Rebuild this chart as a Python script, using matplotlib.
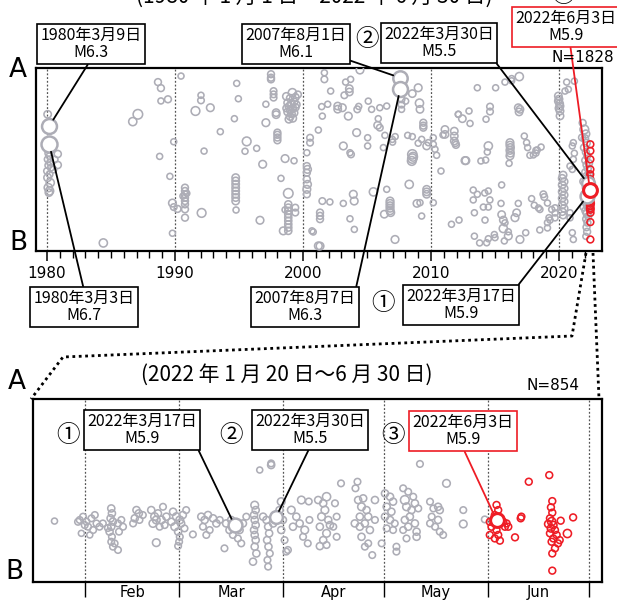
import matplotlib.pyplot as plt
from matplotlib.lines import Line2D

plt.rcParams['font.family'] = ['DejaVu Sans', 'Noto Sans CJK JP']

W, H = 617, 601
JP = ['Noto Sans CJK JP', 'DejaVu Sans']

# ---- upper panel: (year, position on A-B line [0=B .. 100=A], magnitude) ----
quakes_1980s = [
    (1980.05, 74.7, 3.5), (1980.10, 53.4, 3.2), (1980.20, 51.9, 3.2), (1980.05, 50.1, 3.2),
    (1980.25, 48.3, 3.2), (1980.10, 46.8, 3.2), (1980.30, 45.5, 3.2), (1980.00, 43.7, 3.2),
    (1980.20, 41.9, 3.2), (1980.05, 40.1, 3.6), (1980.25, 37.3, 3.8), (1980.10, 34.6, 3.8),
    (1980.20, 32.8, 3.8), (1980.15, 31.9, 3.5), (1980.84, 53.0, 3.4), (1980.84, 47.0, 3.4),
    (1980.60, 50.0, 3.2), (1980.50, 44.5, 3.2), (1980.40, 55.5, 3.2), (1980.00, 56.0, 3.2),
    (1984.40, 4.4, 3.8), (1986.70, 70.7, 3.8), (1987.10, 74.7, 4.3), (1988.67, 92.3, 3.3),
    (1988.90, 89.0, 3.3), (1989.45, 82.9, 3.3), (1988.90, 82.0, 3.0), (1989.90, 59.7, 3.0),
    (1988.80, 51.7, 3.0), (1989.60, 40.8, 3.0), (1989.80, 26.2, 3.6), (1989.90, 24.0, 3.2),
    (1990.20, 23.0, 3.3), (1989.80, 9.7, 3.0),
]

quakes_1990s = [
    (1990.47, 95.6, 3.0), (1990.78, 34.6, 3.3), (1990.78, 32.8, 3.3), (1990.78, 30.9, 3.3),
    (1990.78, 29.1, 3.3), (1990.78, 27.3, 3.3), (1990.78, 25.5, 3.3), (1990.78, 22.8, 3.3),
    (1990.78, 18.2, 3.3), (1990.62, 30.0, 3.0), (1990.92, 31.5, 3.0),
    (1991.60, 76.5, 4.0), (1992.03, 85.1, 3.0), (1992.03, 82.3, 3.2), (1992.08, 20.8, 4.0),
    (1992.27, 54.6, 3.0), (1992.76, 78.3, 3.6), (1993.54, 65.2, 3.0),
    (1994.64, 72.3, 3.0), (1994.82, 91.6, 3.0), (1994.95, 83.2, 3.0),
    (1994.74, 40.1, 3.5), (1994.74, 38.3, 3.5), (1994.74, 36.5, 3.5), (1994.74, 34.6, 3.5),
    (1994.74, 32.8, 3.5), (1994.74, 31.0, 3.5), (1994.74, 29.2, 3.5), (1994.74, 27.3, 3.5),
    (1994.77, 22.4, 3.0),
    (1995.47, 54.5, 3.0), (1995.60, 59.9, 4.0), (1996.38, 56.1, 3.0), (1996.64, 16.8, 3.6),
    (1996.85, 47.4, 3.6),
    (1997.10, 80.2, 3.0), (1997.10, 70.1, 3.6), (1997.50, 96.6, 3.3), (1997.50, 94.7, 3.3),
    (1997.50, 93.8, 3.3), (1997.70, 87.4, 3.2), (1997.70, 85.6, 3.2), (1997.70, 83.8, 3.2),
    (1997.90, 75.6, 3.5), (1997.90, 74.5, 3.5),
    (1998.00, 64.7, 3.3), (1998.00, 63.5, 3.3), (1998.00, 62.0, 3.3), (1998.00, 60.5, 3.3),
    (1998.28, 39.7, 3.0), (1998.60, 50.5, 3.6), (1999.30, 49.3, 3.0),
    (1999.17, 86.5, 3.8), (1998.70, 84.5, 3.5), (1999.00, 83.5, 3.5), (1999.40, 84.0, 3.5),
    (1999.60, 85.5, 3.3), (1998.80, 81.0, 3.5), (1999.10, 80.5, 3.5), (1999.30, 81.5, 3.5),
    (1998.90, 79.0, 3.5), (1999.20, 78.0, 3.5), (1999.00, 77.0, 3.5), (1999.40, 78.5, 3.5),
    (1998.80, 76.0, 3.5), (1999.10, 75.0, 3.5), (1999.30, 75.5, 3.5), (1999.00, 73.5, 3.5),
    (1999.20, 72.5, 3.5), (1998.90, 72.0, 3.5), (1998.70, 78.0, 3.3), (1999.50, 80.0, 3.3),
    (1998.85, 31.5, 4.3), (1998.85, 25.5, 3.4), (1998.85, 23.7, 3.4), (1998.85, 21.9, 3.4),
    (1998.85, 20.1, 3.4), (1998.85, 18.3, 3.4), (1998.85, 16.5, 3.4), (1998.85, 14.6, 3.4),
    (1998.85, 12.8, 3.4), (1998.85, 11.0, 3.4), (1998.46, 11.0, 3.6), (1999.40, 23.7, 3.2),
    (1999.40, 21.0, 3.2), (1998.60, 22.5, 3.0),
]

quakes_2000s = [
    (2000.30, 46.4, 3.3), (2000.35, 44.6, 3.6), (2000.30, 42.8, 3.3), (2000.30, 39.2, 3.3),
    (2000.35, 36.4, 3.6), (2000.30, 33.7, 3.6), (2000.30, 31.0, 3.3), (2000.55, 61.9, 3.2),
    (2000.55, 59.2, 3.2), (2000.30, 53.7, 3.0), (2000.70, 11.0, 3.0), (2000.80, 10.4, 3.0),
    (2001.20, 2.8, 3.6),
    (2001.67, 97.4, 3.0), (2001.67, 93.8, 3.2), (2002.16, 87.4, 3.0), (2003.33, 92.3, 3.0),
    (2003.72, 93.8, 3.0), (2003.62, 88.7, 3.5), (2003.62, 86.9, 3.5), (2003.23, 85.1, 3.2),
    (2004.45, 98.9, 3.6),
    (2001.46, 78.9, 3.0), (2001.93, 80.2, 3.0), (2001.51, 73.7, 3.0), (2002.71, 79.2, 3.5),
    (2002.71, 77.5, 3.5), (2003.07, 78.3, 3.6), (2003.54, 73.7, 3.6), (2004.24, 77.4, 3.2),
    (2004.35, 79.0, 3.0), (2005.10, 81.9, 3.0), (2005.36, 77.4, 3.0), (2006.00, 78.3, 3.0),
    (2006.54, 79.2, 3.0), (2005.88, 72.3, 3.0), (2005.83, 68.7, 3.5), (2006.00, 67.4, 3.2),
    (2004.19, 64.7, 3.6), (2001.20, 66.1, 3.0), (2006.40, 63.2, 3.0), (2005.05, 61.9, 3.0),
    (2005.05, 57.4, 3.0), (2003.15, 57.4, 3.6), (2003.67, 53.7, 3.0), (2003.75, 52.8, 3.2),
    (2006.28, 56.5, 3.0), (2006.98, 61.0, 3.0), (2007.20, 62.5, 3.0), (2007.00, 59.5, 3.0),
    (2007.70, 82.9, 3.2), (2007.70, 80.0, 3.2), (2007.70, 77.4, 3.0), (2008.02, 81.9, 3.0),
    (2008.54, 86.0, 3.5), (2009.00, 89.2, 3.6), (2009.10, 80.8, 3.8), (2009.14, 77.4, 3.5),
    (2009.40, 70.1, 3.3), (2009.40, 68.5, 3.3), (2009.40, 67.4, 3.3), (2008.18, 63.2, 3.0),
    (2008.54, 62.5, 3.0), (2009.00, 58.9, 3.0), (2009.27, 61.0, 3.0), (2009.66, 57.4, 3.5),
    (2009.79, 59.2, 3.0),
    (2008.54, 52.8, 4.2), (2008.54, 50.5, 4.2), (2008.50, 49.2, 4.0), (2008.60, 51.5, 4.0),
    (2010.18, 61.9, 3.0), (2010.18, 58.3, 3.0), (2010.31, 55.6, 3.0), (2010.44, 52.3, 3.0),
    (2010.78, 43.7, 3.0), (2010.94, 63.4, 3.0),
    (2008.30, 36.4, 3.8), (2006.54, 33.7, 3.0), (2005.50, 32.3, 3.8), (2003.93, 31.0, 3.6),
    (2004.00, 27.3, 3.6), (2001.51, 27.3, 3.2), (2002.10, 26.8, 3.0), (2003.15, 26.0, 3.0),
    (2001.33, 21.0, 3.3), (2001.33, 19.2, 3.3), (2001.33, 17.4, 3.3), (2003.67, 17.6, 3.0),
    (2004.01, 11.8, 3.0),
    (2006.80, 27.3, 3.6), (2006.80, 26.0, 3.6), (2006.80, 24.7, 3.6), (2006.80, 23.4, 3.6),
    (2006.80, 22.0, 3.6), (2006.85, 21.0, 3.6), (2006.35, 20.1, 3.5),
    (2009.66, 33.7, 3.5), (2009.66, 32.3, 3.5), (2009.66, 31.0, 3.5), (2008.90, 26.0, 3.5),
    (2009.14, 26.4, 3.0), (2009.27, 19.1, 3.0), (2010.18, 26.4, 3.0), (2007.19, 6.3, 3.6),
    (2001.33, 2.7, 3.6),
]

quakes_2010s = [
    (2011.09, 66.4, 3.5), (2011.09, 63.7, 3.5), (2011.82, 65.5, 3.5), (2011.82, 62.8, 3.5),
    (2011.82, 60.1, 3.5), (2011.90, 59.0, 3.3), (2011.95, 58.0, 3.3), (2011.60, 14.6, 3.0),
    (2012.13, 74.7, 3.0),
    (2013.62, 89.2, 3.0), (2015.05, 89.2, 3.0), (2016.30, 94.2, 3.0), (2016.30, 93.0, 3.0),
    (2016.90, 95.3, 3.8), (2015.78, 92.3, 3.0),
    (2012.97, 76.5, 3.0), (2012.45, 72.3, 3.5), (2013.05, 69.7, 3.0), (2012.14, 74.7, 3.0),
    (2014.61, 78.9, 3.2), (2014.61, 76.2, 3.2), (2014.30, 72.0, 3.0), (2016.82, 78.3, 3.5),
    (2016.95, 77.4, 3.5), (2016.88, 76.0, 3.5),
    (2014.48, 57.4, 3.8), (2014.40, 54.1, 3.0), (2013.90, 49.2, 3.0), (2014.27, 49.7, 3.0),
    (2012.66, 49.4, 3.6), (2012.72, 49.4, 3.6),
    (2016.17, 59.2, 3.6), (2016.17, 57.8, 3.6), (2016.20, 56.5, 3.6), (2016.17, 55.0, 3.6),
    (2016.20, 53.5, 3.6), (2016.17, 52.0, 3.6), (2016.10, 47.9, 3.0),
    (2017.29, 62.8, 3.0), (2017.47, 59.2, 3.0), (2017.55, 56.5, 3.0), (2017.73, 52.3, 3.0),
    (2018.20, 55.0, 3.0), (2018.20, 53.5, 3.0), (2018.60, 56.8, 3.0), (2018.30, 55.2, 3.0),
    (2018.00, 52.5, 3.0),
    (2013.30, 33.3, 3.0), (2013.62, 31.0, 3.0), (2013.30, 27.9, 3.0), (2014.48, 32.8, 3.0),
    (2014.20, 31.7, 3.0), (2014.60, 27.9, 3.0), (2015.52, 36.1, 3.0), (2015.47, 26.0, 3.0),
    (2014.09, 24.0, 3.0), (2014.48, 24.0, 3.0), (2013.39, 20.9, 3.0), (2014.22, 16.9, 3.0),
    (2012.19, 16.9, 3.0),
    (2015.52, 19.9, 3.5), (2015.65, 16.9, 3.5), (2015.78, 15.4, 3.0), (2015.65, 12.3, 3.8),
    (2014.95, 9.0, 3.0), (2014.48, 6.7, 3.0), (2014.35, 4.5, 3.0), (2015.00, 7.3, 3.0),
    (2016.04, 8.2, 3.6), (2016.04, 10.5, 3.0), (2016.56, 18.2, 3.6), (2016.69, 20.9, 3.5),
    (2016.82, 26.0, 3.0), (2015.73, 5.5, 3.0), (2013.39, 8.1, 3.0), (2013.80, 4.4, 3.0),
    (2017.86, 28.6, 3.0), (2018.07, 25.0, 3.0), (2018.78, 31.0, 3.2), (2018.85, 29.5, 3.2),
    (2018.51, 22.7, 3.0), (2018.40, 23.5, 3.0), (2019.10, 26.2, 3.0), (2019.22, 18.2, 3.0),
    (2019.43, 22.7, 3.0), (2019.69, 23.6, 3.0), (2019.10, 15.5, 3.0), (2019.30, 16.9, 3.0),
    (2019.10, 12.6, 3.0), (2018.50, 11.5, 3.0), (2017.40, 10.0, 3.0), (2016.95, 6.3, 3.6),
]

quakes_2020s = [
    (2019.95, 84.7, 3.5), (2019.95, 81.9, 3.5), (2020.00, 83.0, 3.5), (2020.05, 80.5, 3.5),
    (2020.00, 78.0, 3.5), (2020.08, 79.2, 3.5), (2020.08, 76.5, 3.5), (2020.08, 73.8, 3.5),
    (2020.47, 87.4, 3.0), (2020.60, 92.3, 3.0), (2020.73, 88.3, 3.0), (2021.20, 92.8, 3.0),
    (2020.25, 39.7, 3.5), (2020.40, 37.9, 3.5), (2020.25, 36.1, 3.5), (2020.40, 34.2, 3.5),
    (2020.25, 32.4, 3.5), (2020.40, 30.6, 3.5), (2020.25, 28.8, 3.5), (2020.40, 27.0, 3.5),
    (2020.25, 25.1, 3.5), (2020.40, 23.3, 3.5), (2020.25, 21.5, 3.5), (2020.32, 41.5, 3.5),
    (2020.32, 19.5, 3.3), (2019.69, 20.8, 3.0), (2019.69, 18.1, 3.0),
    (2021.12, 59.2, 3.0), (2021.04, 57.4, 3.0), (2021.20, 53.4, 3.0), (2021.12, 50.1, 3.0),
    (2020.86, 46.4, 3.0), (2021.04, 44.6, 3.0), (2020.86, 20.9, 3.0), (2020.86, 18.1, 3.0),
    (2021.04, 10.0, 3.0), (2021.12, 6.3, 3.0),
    (2021.98, 66.4, 4.0), (2022.10, 64.0, 3.6), (2022.02, 61.5, 3.5), (2022.15, 59.0, 3.5),
    (2021.95, 56.5, 3.3), (2022.10, 54.0, 3.3), (2022.20, 52.0, 3.3), (2022.05, 49.5, 3.3),
    (2022.15, 47.0, 3.3), (2022.25, 45.0, 3.3), (2022.05, 43.0, 3.3), (2022.18, 41.0, 3.5),
    (2022.28, 39.0, 3.5), (2022.08, 37.5, 3.5), (2022.22, 36.0, 3.5), (2022.12, 34.5, 3.5),
    (2022.30, 31.5, 3.5), (2022.05, 31.0, 3.5), (2022.15, 29.5, 3.5), (2022.25, 28.0, 3.5),
    (2022.10, 26.5, 3.5), (2022.20, 25.0, 3.5), (2022.30, 23.5, 3.5), (2022.08, 22.0, 3.5),
    (2022.18, 20.5, 3.5), (2022.28, 19.0, 3.3), (2022.12, 17.5, 3.3), (2022.22, 15.5, 3.3),
    (2022.15, 13.0, 3.3), (2022.20, 10.5, 3.3), (2022.10, 8.0, 3.0), (2021.85, 70.0, 3.3),
    (2021.80, 62.0, 3.3), (2021.90, 38.0, 3.3), (2021.92, 24.0, 3.3), (2022.35, 48.0, 3.3),
    (2022.35, 42.0, 3.3), (2022.38, 30.0, 3.3),
]

quakes_2022_jun = [
    (2022.45, 58.3, 3.3), (2022.45, 54.7, 3.3), (2022.45, 50.1, 3.3), (2022.45, 44.6, 3.3),
    (2022.44, 41.9, 3.3), (2022.45, 39.2, 3.3), (2022.44, 36.0, 3.3), (2022.43, 31.0, 3.5),
    (2022.46, 29.5, 3.5), (2022.43, 27.3, 3.5), (2022.47, 26.0, 3.5), (2022.44, 24.9, 3.5),
    (2022.44, 23.5, 3.5), (2022.45, 22.7, 3.5), (2022.46, 20.9, 3.3), (2022.45, 15.8, 3.3),
    (2022.45, 6.3, 3.3),
]

# ---- lower panel: (day of 2022 counted from Jan 1 = 0, position, magnitude) ----
recent_gray = [
    (21.9, 33.3, 3.0),
    (29.4, 33.9, 3.2), (30.4, 35.7, 3.2), (31.4, 33.0, 3.2), (31.9, 30.2, 3.2), (32.9, 34.8, 3.2),
    (33.9, 36.6, 3.2), (34.4, 32.0, 3.2), (29.9, 26.6, 3.0), (32.4, 25.7, 3.0), (33.4, 28.4, 3.2),
    (35.3, 30.2, 3.2), (30.9, 31.1, 3.2), (28.9, 32.9, 3.2), (36.3, 32.0, 3.2), (37.8, 29.5, 3.2),
    (38.8, 40.2, 3.4), (39.0, 37.5, 3.4), (38.6, 34.8, 3.4), (39.3, 33.0, 3.4), (38.8, 30.2, 3.4),
    (38.3, 27.5, 3.4), (39.0, 24.7, 3.2), (38.8, 22.0, 3.2), (39.3, 19.3, 3.2), (40.8, 17.5, 3.2),
    (39.8, 21.1, 3.2), (40.8, 32.0, 3.2), (41.8, 33.9, 3.2), (42.3, 30.2, 3.2), (41.1, 27.5, 3.2),
    (46.3, 39.3, 3.4), (47.0, 37.5, 3.4), (45.8, 34.8, 3.4), (47.2, 33.9, 3.2), (48.2, 36.6, 3.2),
    (45.3, 32.0, 3.2),
    (50.7, 39.3, 3.4), (51.7, 35.7, 3.6), (52.7, 37.5, 3.4), (53.7, 33.9, 3.6), (54.2, 41.1, 3.2),
    (55.2, 35.7, 3.4), (53.2, 30.2, 3.2), (51.2, 32.0, 3.6), (54.7, 31.1, 3.2), (52.2, 33.9, 3.6),
    (52.2, 21.5, 3.6),
    (57.2, 38.4, 3.4), (58.2, 35.7, 3.6), (59.2, 33.9, 3.6), (60.1, 36.6, 3.4), (61.1, 39.3, 3.2),
    (56.7, 32.9, 3.4), (57.7, 30.2, 3.6), (58.7, 27.5, 3.4), (59.2, 24.7, 3.2), (59.0, 22.0, 3.2),
    (58.7, 19.7, 3.2), (60.6, 29.3, 3.2), (59.6, 32.0, 3.4), (63.1, 26.0, 3.2),
    (65.6, 35.7, 3.4), (66.6, 33.9, 3.4), (67.6, 36.6, 3.4), (69.1, 34.8, 3.4), (70.1, 32.0, 3.4),
    (66.1, 30.2, 3.2), (68.1, 28.4, 3.2), (67.1, 25.7, 3.2), (71.1, 33.9, 3.2), (72.5, 18.4, 3.2),
    (73.0, 32.0, 3.4), (74.0, 28.4, 3.4), (75.0, 25.7, 3.2), (77.0, 28.4, 3.4), (78.0, 32.0, 3.4),
    (79.0, 35.7, 3.2), (76.5, 23.8, 3.2), (77.5, 21.1, 3.2), (74.5, 33.9, 3.4),
    (81.5, 42.0, 3.6), (81.8, 39.3, 3.4), (81.3, 36.6, 3.4), (81.5, 33.9, 3.4), (81.8, 31.1, 3.4),
    (81.3, 28.4, 3.4), (81.5, 25.7, 3.4), (81.8, 22.9, 3.4), (81.5, 19.3, 3.4), (82.0, 15.6, 3.4),
    (81.0, 11.1, 3.4), (83.0, 61.2, 3.0), (86.4, 63.9, 3.4), (86.4, 64.8, 3.2),
    (85.0, 33.9, 3.4), (85.5, 30.2, 3.4), (85.8, 26.6, 3.4), (85.2, 22.9, 3.4), (85.6, 19.3, 3.4),
    (86.0, 15.6, 3.2), (85.3, 12.0, 3.2), (85.5, 8.4, 3.2), (84.0, 35.7, 3.4), (87.0, 32.0, 3.4),
    (89.4, 43.9, 3.6), (88.9, 39.3, 3.4), (89.9, 33.9, 3.4), (89.4, 28.4, 3.4), (90.4, 22.9, 3.2),
    (90.9, 16.6, 3.2), (91.4, 17.5, 3.2),
    (92.4, 39.3, 3.6), (93.9, 35.7, 3.4), (94.9, 32.0, 3.4), (96.4, 28.4, 3.6), (97.8, 33.9, 3.2),
    (95.9, 24.7, 3.2), (97.3, 21.1, 3.2), (92.9, 30.2, 3.4), (95.4, 44.8, 3.6), (97.6, 44.0, 3.2),
    (100.4, 44.8, 3.4), (101.9, 43.0, 3.4), (102.9, 46.6, 3.8), (102.4, 39.3, 3.6), (101.4, 35.7, 3.6),
    (103.4, 33.9, 3.4), (100.9, 30.2, 3.4), (102.9, 26.6, 3.6), (101.9, 22.9, 3.4), (100.9, 19.6, 3.4),
    (102.9, 20.2, 3.2), (105.4, 43.0, 3.2), (105.9, 35.7, 3.2), (104.9, 30.2, 3.2), (105.9, 24.7, 3.2),
    (103.9, 31.1, 3.4), (107.2, 53.9, 3.2), (112.1, 54.8, 3.2), (111.5, 51.2, 3.2),
    (112.3, 44.8, 3.4), (113.8, 45.7, 3.4), (113.3, 41.1, 3.6), (114.8, 39.3, 3.4), (112.8, 35.7, 3.4),
    (115.3, 35.7, 3.4), (114.3, 32.0, 3.4), (112.8, 30.2, 3.4), (115.8, 28.4, 3.4), (117.3, 33.9, 3.2),
    (113.3, 24.7, 3.4), (115.3, 21.1, 3.2), (114.3, 19.3, 3.2), (111.3, 32.0, 3.4), (117.3, 44.8, 3.4),
    (116.5, 14.7, 3.2), (119.3, 21.1, 3.2),
    (120.3, 48.4, 3.4), (121.8, 46.6, 3.4), (122.7, 43.9, 3.4), (120.8, 41.1, 3.4), (122.2, 38.4, 3.4),
    (120.3, 35.7, 3.4), (121.8, 33.9, 3.4), (123.2, 32.0, 3.2), (120.8, 29.3, 3.2), (122.7, 28.4, 3.2),
    (123.7, 19.3, 3.2), (123.7, 16.6, 3.2),
    (126.2, 44.8, 4.0), (125.7, 51.2, 3.2), (127.2, 49.3, 3.2), (126.7, 41.1, 3.6), (128.2, 39.3, 3.4),
    (129.2, 43.0, 3.4), (127.7, 35.7, 3.4), (126.2, 33.9, 3.4), (129.2, 32.0, 3.4), (130.2, 40.2, 3.2),
    (128.7, 46.6, 3.2), (125.7, 28.4, 3.2), (127.2, 30.2, 3.4), (129.7, 24.7, 3.4), (126.7, 23.8, 3.2),
    (129.7, 27.5, 3.4), (130.7, 64.5, 3.2),
    (133.7, 43.9, 3.2), (134.7, 40.2, 3.2), (136.1, 41.1, 3.4), (136.6, 39.3, 3.4), (134.2, 35.7, 3.2),
    (136.1, 33.9, 3.4), (133.7, 32.0, 3.2), (135.2, 30.2, 3.2), (136.6, 27.5, 3.2), (137.6, 25.7, 3.2),
    (138.6, 53.9, 3.6), (143.6, 39.3, 3.2), (143.6, 31.7, 3.6), (150.0, 34.2, 3.2),
]

recent_red = [
    (153.5, 42.1, 3.3), (154.0, 39.3, 3.3), (153.0, 36.6, 3.3), (151.5, 32.9, 3.3), (152.0, 30.2, 3.3),
    (153.5, 28.4, 3.3), (154.0, 25.7, 3.3), (153.0, 23.8, 3.3), (154.5, 22.6, 3.3), (155.5, 32.9, 3.3),
    (156.5, 32.0, 3.3), (157.0, 30.2, 3.3), (156.0, 30.2, 3.3), (151.5, 25.7, 3.3), (159.0, 24.4, 3.3),
    (160.7, 34.8, 3.3), (160.9, 35.7, 3.3), (163.1, 54.8, 3.3), (169.2, 58.4, 3.3),
    (170.1, 44.2, 3.3), (169.7, 40.8, 3.3), (170.1, 37.9, 3.3), (169.4, 34.8, 3.3), (169.9, 33.0, 3.8),
    (170.4, 31.1, 3.5), (168.9, 31.7, 3.5), (169.7, 29.3, 3.5), (170.9, 28.4, 3.3), (169.4, 26.6, 3.3),
    (171.4, 25.7, 3.3), (170.4, 23.8, 3.3), (172.3, 22.9, 3.3), (169.9, 22.0, 3.3), (171.8, 21.1, 3.3),
    (170.9, 18.4, 3.3), (172.6, 33.5, 3.3), (170.1, 15.6, 3.3), (170.1, 6.2, 3.3), (174.6, 26.5, 3.8),
    (176.3, 35.3, 3.3),
]

# labelled events: (text, x, position, magnitude, box centre px, line anchor on box)
top_events = [
    ('1980年3月9日\nM6.3', 1980.18, 68.3, 6.3, (91, 44), (0.49, 0.0)),
    ('1980年3月3日\nM6.7', 1980.17, 58.5, 6.7, (84, 307), (0.5, 1.0)),
    ('2007年8月1日\nM6.1', 2007.58, 94.7, 6.1, (296, 44), (1.0, 0.05)),
    ('2007年8月7日\nM6.3', 2007.60, 88.7, 6.3, (305, 307), (1.0, 1.0)),
    ('2022年3月30日\nM5.5', 2022.24, 37.0, 5.5, (439, 43), (1.0, 0.0)),
    ('2022年3月17日\nM5.9', 2022.21, 30.0, 5.9, (461, 305), (1.0, 1.0)),
]
top_red_event = ('2022年6月3日\nM5.9', 2022.42, 33.3, 5.9, (566, 27), (0.54, 0.0))

bottom_events = [
    ('2022年3月17日\nM5.9', 75.5, 31.1, 5.9, (142, 430), (1.0, 0.0)),
    ('2022年3月30日\nM5.5', 87.9, 35.6, 5.5, (310, 430), (0.5, 0.0)),
]
bottom_red_event = ('2022年6月3日\nM5.9', 153.5, 33.8, 5.9, (463, 431), (0.5, 0.0))

decade_ticks = [1980, 1990, 2000, 2010, 2020]
month_starts = [31, 59, 90, 120, 151, 181]
month_mids = [45, 74.5, 105, 135.5, 166]
month_names = ['Feb', 'Mar', 'Apr', 'May', 'Jun']

GRAY = '#adadb6'
RED = '#ee1c25'


def diam_px(m):
    return 6 + 2.7 * (m - 3)


def msize(m):
    return (diam_px(m) * 0.72) ** 2


def scatter(ax, pts, color, z=3):
    ax.scatter([p[0] for p in pts], [p[1] for p in pts], s=[msize(p[2]) for p in pts],
               facecolors='none', edgecolors=color, linewidths=1.15, zorder=z)


def fx(px):
    return px / W


def fy(py):
    return 1 - py / H


def callout(ax, ev, color='black', edge=GRAY):
    text, x, y, m, (cx, cy), rel = ev
    ax.scatter([x], [y], s=msize(m), facecolors='white', edgecolors=edge,
               linewidths=2.2 if edge == RED else 1.8, zorder=6)
    ax.annotate(text, xy=(x, y), xytext=(cx, H - cy), textcoords='figure pixels',
                ha='center', va='center', fontsize=11.5, family=JP, linespacing=1.0,
                zorder=8,
                bbox=dict(boxstyle='square,pad=0.2', fc='white', ec=color, lw=1.2),
                arrowprops=dict(arrowstyle='-', color=color, lw=1.3, relpos=rel,
                                shrinkA=0, shrinkB=diam_px(m) * 0.36))


fig = plt.figure(figsize=(W / 100, H / 100), dpi=100)

# ---------------- upper panel ----------------
ax1 = fig.add_axes([fx(36), fy(251), fx(602) - fx(36), fy(68) - fy(251)])
ax1.set_xlim(1979.14, 2023.36)
ax1.set_ylim(0, 100)
for d in decade_ticks:
    ax1.axvline(d, color='#555555', ls=(0, (1.5, 1.5)), lw=0.9, zorder=1)
for pts in [quakes_1980s, quakes_1990s, quakes_2000s, quakes_2010s, quakes_2020s]:
    scatter(ax1, pts, GRAY)
scatter(ax1, quakes_2022_jun, RED, z=4)
for ev in top_events:
    callout(ax1, ev)
callout(ax1, top_red_event, color=RED, edge=RED)

ax1.set_xticks(decade_ticks)
ax1.set_xticklabels([str(d) for d in decade_ticks])
ax1.set_xticks(range(1980, 2023), minor=True)
ax1.set_yticks([])
ax1.tick_params(axis='x', which='major', length=7.5, width=1.1, labelsize=11, pad=3)
ax1.tick_params(axis='x', which='minor', length=5, width=1.0)
for sp in ax1.spines.values():
    sp.set_linewidth(1.6)

# ---------------- lower panel ----------------
ax2 = fig.add_axes([fx(33), fy(582), fx(602) - fx(33), fy(399) - fy(582)])
ax2.set_xlim(15.5, 184.9)
ax2.set_ylim(0, 100)
for d in month_starts:
    ax2.axvline(d, color='#555555', ls=(0, (1.5, 1.5)), lw=0.9, zorder=1)
scatter(ax2, recent_gray, GRAY)
scatter(ax2, recent_red, RED, z=4)
for ev in bottom_events:
    callout(ax2, ev)
callout(ax2, bottom_red_event, color=RED, edge=RED)

ax2.set_xticks(month_starts)
ax2.set_xticklabels([])
ax2.set_xticks(month_mids, minor=True)
ax2.set_xticklabels(month_names, minor=True)
ax2.set_yticks([])
ax2.tick_params(axis='x', which='major', length=11, width=1.0)
ax2.tick_params(axis='x', which='minor', length=0, labelsize=10.5, pad=2)
for sp in ax2.spines.values():
    sp.set_linewidth(1.6)

# ---------------- texts ----------------
fig.text(fx(314), fy(-3), '(1980 年 1 月 1 日～2022 年 6 月 30 日)', fontsize=15, family=JP,
         ha='center', va='center')
fig.text(fx(287), fy(375), '(2022 年 1 月 20 日～6 月 30 日)', fontsize=15, family=JP,
         ha='center', va='center')
for s, x, y in [('A', 18, 70), ('B', 18, 243), ('A', 17, 382), ('B', 14, 572)]:
    fig.text(fx(x), fy(y), s, fontsize=19, ha='center', va='center')
fig.text(fx(583), fy(58), 'N=1828', fontsize=11, ha='center', va='center')
fig.text(fx(553), fy(386), 'N=854', fontsize=11, ha='center', va='center')
for s, x, y in [('②', 367, 40), ('①', 383, 303), ('③', 563, -5),
                ('①', 68, 435), ('②', 231, 435), ('③', 393, 435)]:
    fig.text(fx(x), fy(y), s, fontsize=17, family=JP, ha='center', va='center')

# dotted zoom guides
dots = dict(color='black', ls=(0, (1, 1.3)), lw=2.0, transform=fig.transFigure)
fig.add_artist(Line2D([fx(586), fx(572), fx(63), fx(31)],
                      [fy(253), fy(336), fy(357), fy(399)], **dots))
fig.add_artist(Line2D([fx(593), fx(599)], [fy(253), fy(399)], **dots))

fig.savefig('out.png', dpi=100)
